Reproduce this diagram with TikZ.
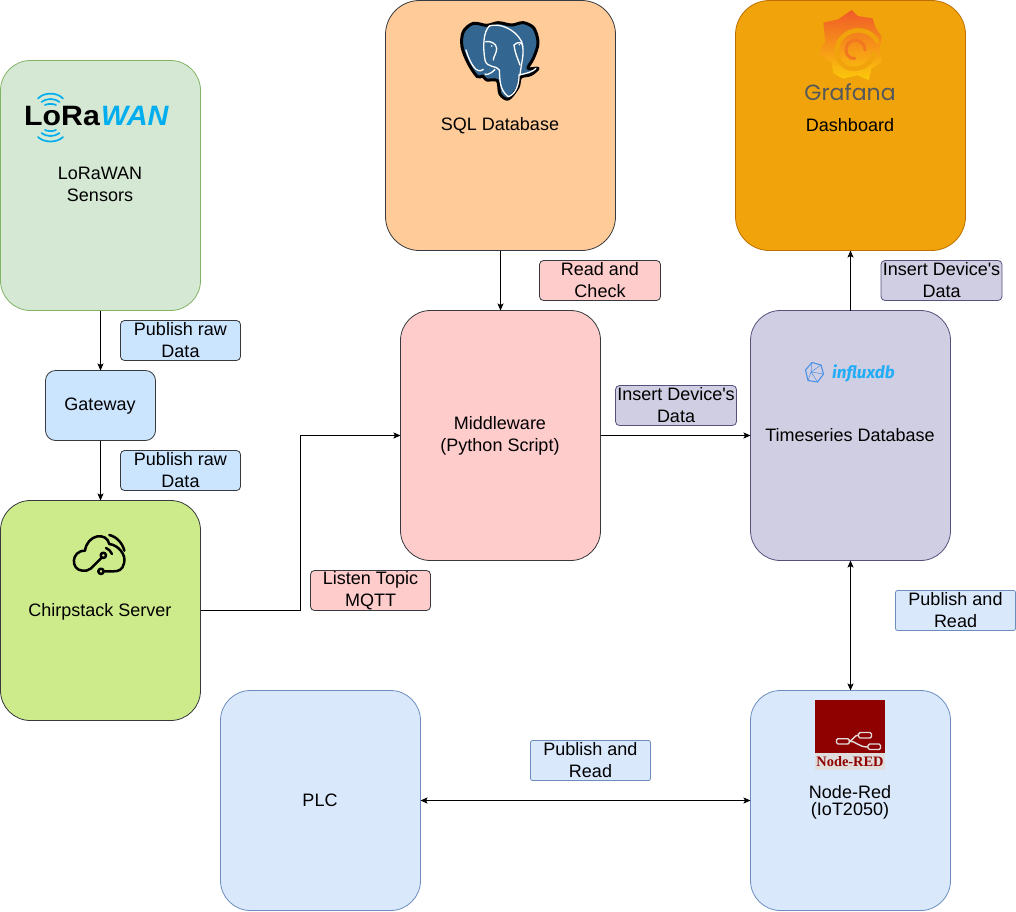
\documentclass[tikz,border=0pt]{standalone}
\usepackage{fontspec}
\setmainfont{Liberation Sans}
\newfontfamily\plainf{Liberation Sans}
\newfontfamily\serifb{Liberation Serif}
\newfontfamily\popf{Poppins}
\newfontfamily\firaf{Fira Sans}
\usetikzlibrary{arrows.meta}
\definecolor{cGreen}{HTML}{D5E8D4}\definecolor{sGreen}{HTML}{82B366}
\definecolor{cBlue}{HTML}{CCE5FF}\definecolor{sDark}{HTML}{36393D}
\definecolor{cLime}{HTML}{CDEB8B}\definecolor{cPeach}{HTML}{FFCC99}
\definecolor{cPink}{HTML}{FFCCCC}\definecolor{cAmber}{HTML}{F0A30A}
\definecolor{sAmber}{HTML}{BD7000}\definecolor{cLav}{HTML}{D0CEE2}
\definecolor{sLav}{HTML}{56517E}\definecolor{cSky}{HTML}{DAE8FC}
\definecolor{sSky}{HTML}{6C8EBF}\definecolor{loraBlue}{HTML}{00AEEF}
\definecolor{pgBlue}{HTML}{336791}\definecolor{graOr}{HTML}{F05A28}
\definecolor{graYe}{HTML}{FBCA0A}\definecolor{graGr}{HTML}{55585B}
\definecolor{nrRed}{HTML}{8F0000}\definecolor{nrGr}{HTML}{E0DEDC}
\definecolor{inflA}{HTML}{4A90E8}\definecolor{inflB}{HTML}{22ADF6}
\tikzset{
  box/.style={draw,rounded corners=#1,inner sep=0pt,outer sep=0pt,line width=0.8pt},
  box/.default=30pt,
  lab/.style={font=\fontsize{18}{22}\selectfont,align=center,inner sep=0pt,text=black},
  tag/.style={draw,rounded corners=4pt,inner sep=0pt,outer sep=0pt,line width=0.8pt,
    minimum width=120pt,minimum height=40pt,align=center,font=\fontsize{18}{22}\selectfont},
  conn/.style={draw=black,line width=0.8pt,-{Stealth[length=7pt,width=6pt,inset=1.5pt]}},
  dconn/.style={draw=black,line width=0.8pt,{Stealth[length=7pt,width=6pt,inset=1.5pt]}-{Stealth[length=7pt,width=6pt,inset=1.5pt]}}
}
\newcommand{\mybox}[8]{% name,x,y,w,h,fill,stroke,radius
  \node[box=#8pt,fill=#6,draw=#7,minimum width=#4pt,minimum height=#5pt] (#1) at (#2,#3) {};}
\begin{document}
\begin{tikzpicture}[x=1pt,y=-1pt]
\useasboundingbox (0,0) rectangle (1016,911);
% boxes
\mybox{lora}{100.5}{185.5}{200}{250}{cGreen}{sGreen}{30}
\mybox{gw}{100.5}{405.5}{110}{70}{cBlue}{sDark}{10}
\mybox{chirp}{100.5}{610.5}{200}{220}{cLime}{sDark}{30}
\mybox{sql}{500.5}{125.5}{230}{250}{cPeach}{sDark}{34}
\mybox{mid}{500.5}{435.5}{200}{250}{cPink}{sDark}{30}
\mybox{graf}{850.5}{125.5}{230}{250}{cAmber}{sAmber}{34}
\mybox{ts}{850.5}{435.5}{200}{250}{cLav}{sLav}{30}
\mybox{nr}{850.5}{800.5}{200}{220}{cSky}{sSky}{30}
\mybox{plc}{320.5}{800.5}{200}{220}{cSky}{sSky}{30}
\node[lab] (tlora) at (100,184.5) {LoRaWAN\\Sensors};
\node[lab] (tgw) at (100,406.5) {Gateway};
\node[lab] (tchirp) at (100,611.5) {Chirpstack Server};
\node[lab] (tsql) at (500,126) {SQL Database};
\node[lab] (tmid) at (500,436) {Middleware\\(Python Script)};
\node[lab] (tgraf) at (850,125.5) {Dashboard};
\node[lab] (tts) at (850,435.5) {Timeseries Database};
\node[lab,font=\fontsize{18}{17}\selectfont] (tnr) at (850,802.5) {Node-Red\\(IoT2050)};
\node[lab] (tplc) at (320,800) {PLC};
% tags
\node[tag,fill=cBlue,draw=sDark] (t1) at (180.5,340.5) {Publish raw\\Data};
\node[tag,fill=cBlue,draw=sDark] (t2) at (180.5,470.5) {Publish raw\\Data};
\node[tag,fill=cPink,draw=sDark] (t3) at (370.5,590.5) {Listen Topic\\MQTT};
\node[tag,fill=cPink,draw=sDark,minimum width=121pt] (t4) at (600,280.5) {Read and\\Check};
\node[tag,fill=cLav,draw=sLav,minimum width=121pt] (t5) at (676,405.5) {Insert Device{\plainf'}s\\Data};
\node[tag,fill=cLav,draw=sLav,minimum width=121pt] (t6) at (941.5,280.5) {Insert Device{\plainf'}s\\Data};
\node[tag,fill=cSky,draw=sSky,rounded corners=2pt] (t7) at (955.5,610.5) {Publish and\\Read};
\node[tag,fill=cSky,draw=sSky,rounded corners=2pt] (t8) at (590.5,760.5) {Publish and\\Read};
% connectors
\coordinate (elbow) at (300.5,435.5);
\draw[conn] (lora.south) -- (gw.north);
\draw[conn] (gw.south) -- (chirp.north);
\draw[conn,rounded corners=0pt] (chirp.east) -| (elbow) -- (mid.west);
\draw[conn] (sql.south) -- (mid.north);
\draw[conn] (mid.east) -- (ts.west);
\draw[conn] (ts.north) -- (graf.south);
\draw[dconn] (ts.south) -- (nr.north);
\draw[dconn] (plc.east) -- (nr.west);
% LoRaWAN logo
\node[anchor=base west,inner sep=0pt,font=\fontsize{28}{28}\bfseries\selectfont,xscale=1.08,transform shape] (logoa) at (24,125) {LoRa};
\node[anchor=base west,inner sep=0pt,font=\fontsize{28}{28}\bfseries\itshape\selectfont,text=loraBlue,xscale=1.03,transform shape] (logob) at (101,125) {WAN};
\begin{scope}[line width=1.7pt,draw=loraBlue,line cap=round]
\draw[loraBlue] (38,98.5) .. controls (44,92) and (57,92) .. (63,98.5);
\draw[loraBlue] (41.5,102) .. controls (46,98) and (55,98) .. (59.5,102);
\draw[loraBlue] (45,105) .. controls (48,103.5) and (53,103.5) .. (56,105);
\draw[loraBlue] (38,137) .. controls (44,143) and (57,143) .. (63,137);
\draw[loraBlue] (41.5,133) .. controls (46,137) and (55,137) .. (59.5,133);
\draw[loraBlue] (45,130) .. controls (48,131.5) and (53,131.5) .. (56,130);
\end{scope}
% PostgreSQL elephant
\begin{scope}[shift={(440,0)},x=0.3333pt,y=-0.3333pt]
\draw[fill=pgBlue,draw=black,line width=3pt,line join=round]
 plot[smooth cycle,tension=0.55] coordinates {(100,70)(140,76)(175,68)(215,75)(250,68)(282,85)(294,130)(280,175)(264,205)(294,205)(272,224)(242,232)(234,262)(205,297)(180,282)(172,242)(140,240)(128,228)(112,230)(85,190)(66,140)(70,95)};
\begin{scope}[draw=white,line width=1.3pt,line cap=round]
\draw (148,78) .. controls (130,95) and (128,140) .. (135,180) .. controls (140,205) and (170,195) .. (178,210) .. controls (180,240) and (178,270) .. (205,290) .. controls (225,285) and (238,255) .. (237,225) .. controls (260,220) and (280,215) .. (288,205);
\draw (148,78) .. controls (175,68) and (225,85) .. (245,125) .. controls (255,160) and (245,180) .. (240,225);
\draw (130,208) .. controls (110,225) and (90,190) .. (78,150);
\draw (165,208) .. controls (150,225) and (135,225) .. (135,222);
\draw (137,125) .. controls (150,122) and (170,130) .. (170,145) .. controls (170,160) and (160,170) .. (160,180);
\draw (222,135) .. controls (235,122) and (250,128) .. (248,140);
\draw (222,135) .. controls (225,160) and (235,180) .. (240,195);
\end{scope}
\fill[white] (155,138) circle (2.5);
\fill[white] (238,134) circle (2.5);
\end{scope}
% Grafana logo
\begin{scope}[shift={(790,0)},x=0.3333pt,y=-0.3333pt]
\shade[top color=graOr,bottom color=graYe,middle color=graOr!50!graYe]
 (185,30) -- (203,48) -- (248,55) -- (256,82) -- (275,110) -- (268,150) -- (276,186) -- (245,205) -- (236,240) -- (202,226) -- (160,236) -- (130,220) -- (125,188) -- (85,160) -- (106,125) -- (100,68) -- (145,58) -- cycle;
\draw[cAmber,line width=4.5pt,line cap=round] (262,125) .. controls (245,90) and (195,80) .. (165,105) .. controls (125,135) and (135,195) .. (180,205) .. controls (215,212) and (245,190) .. (252,160);
\draw[graOr!75!graYe,line width=3pt,line cap=round] (225,150) .. controls (225,120) and (185,110) .. (172,135) .. controls (160,160) and (180,180) .. (195,175);
\end{scope}
\node[anchor=base,inner sep=0pt,font=\popf\fontsize{22}{22}\selectfont,text=graGr] (logog) at (850,100) {Grafana};
% Chirpstack icon
\begin{scope}[shift={(50,520)},x=0.3333pt,y=-0.3333pt]
\begin{scope}[draw=black,line width=2.5pt,line cap=round,line join=round]
\draw (155,113) -- (122,146) .. controls (115,153) and (105,152) .. (97,152) .. controls (62,150) and (62,92) .. (105,92) .. controls (112,42) and (170,35) .. (178,72) .. controls (205,75) and (230,105) .. (222,130) .. controls (218,150) and (205,154) .. (190,154) -- (164,154);
\draw (160,106) circle (8);
\draw (153,154) circle (8);
\draw (178,45) .. controls (200,50) and (218,70) .. (223,92);
\draw (168,84) .. controls (175,86) and (183,94) .. (186,102);
\end{scope}
\end{scope}
% Node-RED logo
\fill[nrRed] (815,700) rectangle (885,753);
\fill[nrGr] (815,753) rectangle (885,770);
\begin{scope}[draw=nrGr,line width=1.4pt]
\draw[rounded corners=1.5pt] (836.5,738.7) rectangle (849.3,744);
\draw[rounded corners=1.5pt] (858.5,732.5) rectangle (871.5,738);
\draw[rounded corners=1.5pt] (868,744) rectangle (880.5,749.5);
\draw (849.3,741) .. controls (853,741) and (854,735) .. (858.5,735);
\draw (849.3,741) .. controls (856,741) and (858,747) .. (868,747);
\end{scope}
\node[inner sep=0pt,font=\serifb\bfseries\fontsize{14.4}{14}\selectfont,text=nrRed] (logon) at (850,761.5) {Node-RED};
% influxdb logo
\begin{scope}[draw=inflA,line width=1.1pt,line join=round]
\draw (812,362.5) -- (821,365) -- (823.5,374) -- (817.5,382) -- (808,380.5) -- (805.5,370) -- cycle;
\draw[line width=0.5pt] (812,362.5) -- (811,372) -- (823.5,374) (811,372) -- (808,380.5) (811,372) -- (817.5,382) (821,365) -- (811,372);
\end{scope}
\node[anchor=base west,inner sep=0pt,font=\firaf\bfseries\itshape\fontsize{17}{17}\selectfont,text=inflB] (logoi) at (832,378) {influxdb};
\end{tikzpicture}
\end{document}
